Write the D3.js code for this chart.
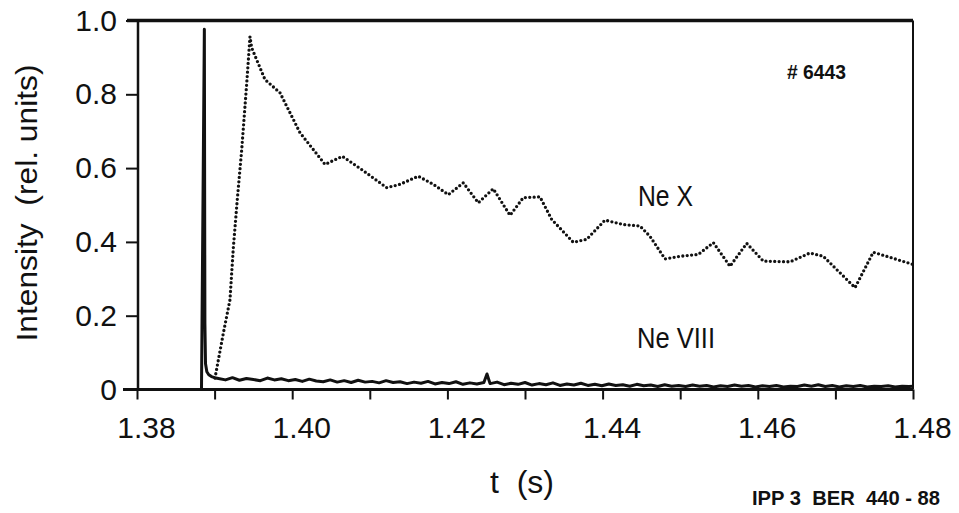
<!DOCTYPE html>
<html>
<head>
<meta charset="utf-8">
<script src="https://cdn.jsdelivr.net/npm/d3@7"></script>
<style>
  body { margin: 0; background: #fff; }
  svg { display: block; font-family: "Liberation Sans", Arial, sans-serif; }
</style>
</head>
<body>
<script>
// tick values
var xTicks = [1.38, 1.39, 1.40, 1.41, 1.42, 1.43, 1.44, 1.45, 1.46, 1.47, 1.48];
var xLabels = [1.38, 1.40, 1.42, 1.44, 1.46, 1.48];
var yTicks = [0, 0.2, 0.4, 0.6, 0.8, 1.0];

// Ne X line (dotted), [t, intensity]
var neX = [
  [1.39005, 0.031], [1.39112, 0.152], [1.39198, 0.243], [1.39241, 0.383], [1.39292, 0.514],
  [1.39349, 0.649], [1.39414, 0.830], [1.39456, 0.956], [1.39478, 0.926], [1.39649, 0.840],
  [1.39843, 0.804], [1.40100, 0.696], [1.40423, 0.610], [1.40646, 0.632], [1.40896, 0.596],
  [1.41218, 0.547], [1.41389, 0.556], [1.41625, 0.578], [1.41818, 0.556], [1.42012, 0.528],
  [1.42205, 0.560], [1.42398, 0.506], [1.42591, 0.544], [1.42807, 0.472], [1.42978, 0.520],
  [1.43193, 0.522], [1.43344, 0.461], [1.43622, 0.399], [1.43795, 0.407], [1.44031, 0.459],
  [1.44267, 0.447], [1.44482, 0.443], [1.44611, 0.415], [1.44804, 0.354], [1.44998, 0.361],
  [1.45233, 0.366], [1.45427, 0.398], [1.45642, 0.334], [1.45857, 0.396], [1.46071, 0.348],
  [1.46415, 0.346], [1.46673, 0.370], [1.46844, 0.361], [1.47253, 0.276], [1.47488, 0.372],
  [1.48000, 0.339]
];

// Ne VIII line (solid), spike then noisy baseline
var neVIII = [
  [1.38150, 0.000], [1.38831, 0.000], [1.38868, 0.976], [1.38875, 0.180], [1.38883, 0.070],
  [1.38900, 0.048], [1.38925, 0.040], [1.38960, 0.035], [1.39000, 0.032],
  [1.3905, 0.030], [1.3914, 0.026], [1.3923, 0.032], [1.3932, 0.025], [1.3941, 0.030],
  [1.3950, 0.027], [1.3959, 0.024], [1.3968, 0.031], [1.3977, 0.026], [1.3986, 0.029],
  [1.3995, 0.024], [1.4004, 0.027], [1.4013, 0.022], [1.4022, 0.028], [1.4031, 0.023],
  [1.4040, 0.021], [1.4049, 0.026], [1.4058, 0.020], [1.4067, 0.024], [1.4076, 0.019],
  [1.4085, 0.025], [1.4094, 0.020], [1.4103, 0.022], [1.4112, 0.018], [1.4121, 0.024],
  [1.4130, 0.019], [1.4139, 0.021], [1.4148, 0.016], [1.4157, 0.020], [1.4166, 0.017],
  [1.4175, 0.022], [1.4184, 0.015], [1.4193, 0.019], [1.4202, 0.016], [1.4211, 0.021],
  [1.4220, 0.014], [1.4229, 0.018], [1.4238, 0.015], [1.4247, 0.019], [1.4251, 0.042],
  [1.4255, 0.016], [1.4264, 0.020], [1.4273, 0.013], [1.4282, 0.017], [1.4291, 0.014],
  [1.4300, 0.019], [1.4309, 0.012], [1.4318, 0.016], [1.4327, 0.013], [1.4336, 0.018],
  [1.4345, 0.011], [1.4354, 0.015], [1.4363, 0.012], [1.4372, 0.017], [1.4381, 0.011],
  [1.4390, 0.014], [1.4399, 0.010], [1.4408, 0.015], [1.4417, 0.011], [1.4426, 0.013],
  [1.4435, 0.009], [1.4444, 0.014], [1.4453, 0.010], [1.4462, 0.012], [1.4471, 0.008],
  [1.4480, 0.013], [1.4489, 0.009], [1.4498, 0.011], [1.4507, 0.008], [1.4516, 0.012],
  [1.4525, 0.009], [1.4534, 0.011], [1.4543, 0.007], [1.4552, 0.010], [1.4561, 0.008],
  [1.4570, 0.012], [1.4579, 0.009], [1.4588, 0.011], [1.4597, 0.007], [1.4606, 0.010],
  [1.4615, 0.008], [1.4624, 0.011], [1.4633, 0.007], [1.4642, 0.009], [1.4651, 0.008],
  [1.4660, 0.012], [1.4669, 0.009], [1.4678, 0.013], [1.4687, 0.008], [1.4696, 0.011],
  [1.4705, 0.007], [1.4714, 0.010], [1.4723, 0.008], [1.4732, 0.011], [1.4741, 0.007],
  [1.4750, 0.009], [1.4759, 0.008], [1.4768, 0.010], [1.4777, 0.007], [1.4786, 0.009],
  [1.4795, 0.008], [1.4800, 0.009]
];

var width = 959;
var height = 513;

var svg = d3.select("body").append("svg")
  .attr("width", width)
  .attr("height", height);

var xScale = d3.scaleLinear().domain([1.38, 1.48]).range([137, 913]);
var yScale = d3.scaleLinear().domain([0, 1]).range([389.5, 20.5]);

// x axis
var xAxis = d3.axisBottom(xScale)
  .tickValues(xTicks)
  .tickSize(10)
  .tickPadding(17)
  .tickFormat(function(d) {
    var show = xLabels.some(function(v) { return Math.abs(v - d) < 1e-9; });
    return show ? d3.format(".2f")(d) : "";
  });

var gx = svg.append("g")
  .attr("transform", "translate(0," + yScale(0) + ")")
  .call(xAxis);
gx.select(".domain").remove();
gx.selectAll(".tick line").attr("stroke", "#111").attr("stroke-width", 2);
gx.selectAll(".tick text")
  .attr("dx", 9)
  .style("font-size", "30px")
  .style("font-family", "Liberation Sans, Arial, sans-serif")
  .attr("fill", "#111");

// y axis
var yAxis = d3.axisLeft(yScale)
  .tickValues(yTicks)
  .tickSize(11)
  .tickPadding(9)
  .tickFormat(function(d) { return d === 0 ? "0" : d3.format(".1f")(d); });

var gy = svg.append("g")
  .attr("transform", "translate(" + xScale(1.38) + ",0)")
  .call(yAxis);
gy.select(".domain").remove();
gy.selectAll(".tick line").attr("stroke", "#111").attr("stroke-width", 2);
gy.selectAll(".tick text")
  .style("font-size", "30px")
  .style("font-family", "Liberation Sans, Arial, sans-serif")
  .attr("fill", "#111");

// frame
var frame = svg.append("g").attr("stroke", "#111").attr("fill", "none");
frame.append("line")
  .attr("x1", 127).attr("x2", xScale(1.48))
  .attr("y1", yScale(1)).attr("y2", yScale(1))
  .attr("stroke-width", 3.5);
frame.append("line")
  .attr("x1", 123).attr("x2", xScale(1.48))
  .attr("y1", yScale(0)).attr("y2", yScale(0))
  .attr("stroke-width", 3);
frame.append("line")
  .attr("x1", xScale(1.38) + 1).attr("x2", xScale(1.38) + 1)
  .attr("y1", yScale(1)).attr("y2", yScale(0))
  .attr("stroke-width", 2.5);
frame.append("line")
  .attr("x1", xScale(1.48)).attr("x2", xScale(1.48))
  .attr("y1", yScale(1)).attr("y2", yScale(0))
  .attr("stroke-width", 2);

var line = d3.line()
  .x(function(d) { return xScale(d[0]); })
  .y(function(d) { return yScale(d[1]); });

svg.append("path")
  .datum(neVIII)
  .attr("d", line)
  .attr("fill", "none")
  .attr("stroke", "#111")
  .attr("stroke-width", 3)
  .attr("stroke-linejoin", "round");

svg.append("path")
  .datum(neX)
  .attr("d", line)
  .attr("fill", "none")
  .attr("stroke", "#111")
  .attr("stroke-width", 3.3)
  .attr("stroke-linecap", "round")
  .attr("stroke-dasharray", "0,4.4");

// text labels
function label(x, y, size, len, txt, bold) {
  var t = svg.append("text")
    .attr("x", x).attr("y", y)
    .style("font-size", size + "px")
    .style("white-space", "pre")
    .attr("fill", "#111")
    .text(txt);
  if (len) t.attr("textLength", len).attr("lengthAdjust", "spacingAndGlyphs");
  if (bold) t.style("font-weight", "bold");
  return t;
}

svg.append("text")
  .attr("transform", "translate(36.7,203) rotate(-90)")
  .attr("text-anchor", "middle")
  .attr("textLength", 277)
  .attr("lengthAdjust", "spacingAndGlyphs")
  .style("font-size", "30px")
  .style("white-space", "pre")
  .attr("fill", "#111")
  .text("Intensity  (rel. units)");

label(490, 493, 32, null, "t  (s)");
label(638, 206, 29, 55, "Ne X");
label(637, 348, 29, 78, "Ne VIII");
label(787, 79, 20, 59, "# 6443", true);
label(752, 505, 21, 188, "IPP 3  BER  440 - 88", true);
</script>
</body>
</html>
